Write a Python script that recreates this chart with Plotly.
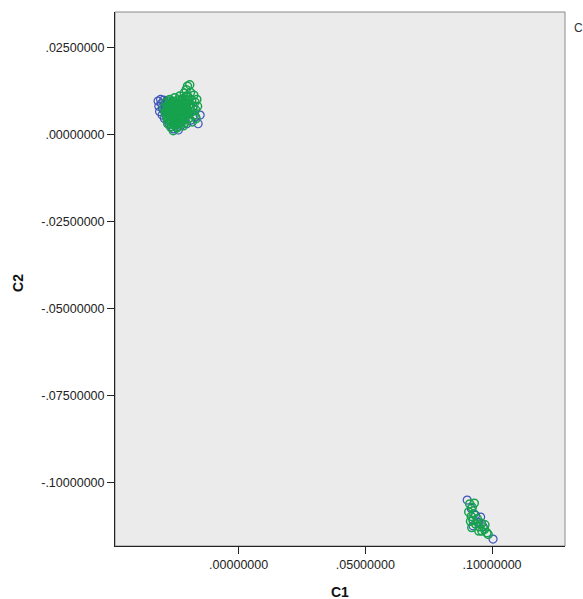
import plotly.graph_objects as go

# ---- data ----
blue_x = [-0.0318, -0.0315, -0.0312, -0.0308, -0.0305, -0.0302, -0.0300, -0.0296, -0.0293, -0.0290,
          -0.0288, -0.0285, -0.0282, -0.0280, -0.0275, -0.0272, -0.0270, -0.0265, -0.0262, -0.0258,
          -0.0255, -0.0250, -0.0246, -0.0242, -0.0238, -0.0232, -0.0228, -0.0222, -0.0218, -0.0212,
          -0.0205, -0.0198, -0.0190, -0.0180, -0.0170, -0.0160, -0.0152,
          0.0902, 0.0935, 0.0945, 0.0925, 0.0955, 0.0965, 0.1004, 0.0918]
blue_y = [0.0095, 0.0080, 0.0065, 0.0100, 0.0088, 0.0055, 0.0072, 0.0098, 0.0045, 0.0083,
          0.0062, 0.0095, 0.0040, 0.0075, 0.0030, 0.0088, 0.0055, 0.0022, 0.0068, 0.0015,
          0.0045, 0.0080, 0.0030, 0.0060, 0.0012, 0.0050, 0.0025, 0.0070, 0.0040, 0.0090,
          0.0030, 0.0060, 0.0040, 0.0075, 0.0050, 0.0030, 0.0055,
          -0.1051, -0.1095, -0.1115, -0.1125, -0.1100, -0.1128, -0.1163, -0.1075]

green_x = [-0.0295, -0.0290, -0.0288, -0.0285, -0.0282, -0.0278, -0.0275, -0.0272, -0.0270, -0.0267,
           -0.0264, -0.0262, -0.0260, -0.0257, -0.0255, -0.0252, -0.0250, -0.0248, -0.0245, -0.0243,
           -0.0240, -0.0238, -0.0235, -0.0232, -0.0230, -0.0228, -0.0225, -0.0222, -0.0220, -0.0218,
           -0.0215, -0.0212, -0.0210, -0.0207, -0.0205, -0.0202, -0.0200, -0.0198, -0.0196, -0.0193,
           -0.0190, -0.0188, -0.0185, -0.0183, -0.0180, -0.0177, -0.0175, -0.0172, -0.0170, -0.0168,
           -0.0165, -0.0162, -0.0268, -0.0280, -0.0258, -0.0276, -0.0262, -0.0248, -0.0236, -0.0226,
           -0.0214, -0.0204, -0.0240, -0.0252, -0.0230, -0.0218, -0.0286, -0.0270,
           -0.0278, -0.0274, -0.0270, -0.0266, -0.0262, -0.0258, -0.0254, -0.0250, -0.0246, -0.0242,
           -0.0238, -0.0234, -0.0230, -0.0226, -0.0222, -0.0218, -0.0214, -0.0210,
           -0.0276, -0.0271, -0.0266, -0.0261, -0.0256, -0.0251, -0.0246, -0.0241, -0.0236, -0.0231,
           -0.0226, -0.0221, -0.0216, -0.0211, -0.0206, -0.0201,
           -0.0280, -0.0273, -0.0265, -0.0258, -0.0250, -0.0243, -0.0236, -0.0228, -0.0221, -0.0213,
           -0.0206, -0.0199, -0.0192,
           0.0912, 0.0922, 0.0930, 0.0908, 0.0918, 0.0928, 0.0915, 0.0925, 0.0935, 0.0920,
           0.0942, 0.0950, 0.0960, 0.0970, 0.0980, 0.0972, 0.0958, 0.0985, 0.0948]
green_y = [0.0075, 0.0060, 0.0090, 0.0050, 0.0070, 0.0085, 0.0045, 0.0100, 0.0062, 0.0078,
           0.0035, 0.0092, 0.0055, 0.0070, 0.0025, 0.0105, 0.0040, 0.0085, 0.0060, 0.0018,
           0.0098, 0.0072, 0.0048, 0.0110, 0.0030, 0.0088, 0.0062, 0.0040, 0.0102, 0.0075,
           0.0118, 0.0052, 0.0090, 0.0128, 0.0068, 0.0138, 0.0108, 0.0045, 0.0085, 0.0142,
           0.0120, 0.0065, 0.0098, 0.0035, 0.0080, 0.0112, 0.0055, 0.0092, 0.0070, 0.0045,
           0.0100, 0.0080, 0.0020, 0.0030, 0.0010, 0.0065, 0.0082, 0.0052, 0.0058, 0.0080,
           0.0062, 0.0088, 0.0030, 0.0066, 0.0094, 0.0024, 0.0068, 0.0042,
           0.0058, 0.0072, 0.0040, 0.0086, 0.0050, 0.0064, 0.0094, 0.0036, 0.0076, 0.0050,
           0.0088, 0.0062, 0.0042, 0.0098, 0.0054, 0.0084, 0.0070, 0.0060,
           0.0082, 0.0052, 0.0068, 0.0028, 0.0090, 0.0046, 0.0072, 0.0022, 0.0084, 0.0066,
           0.0034, 0.0078, 0.0046, 0.0100, 0.0078, 0.0058,
           0.0040, 0.0095, 0.0050, 0.0080, 0.0066, 0.0040, 0.0060, 0.0052, 0.0090, 0.0032,
           0.0110, 0.0096, 0.0076,
           -0.1062, -0.1072, -0.1060, -0.1085, -0.1098, -0.1090, -0.1112, -0.1110, -0.1120, -0.1130,
           -0.1105, -0.1128, -0.1140, -0.1135, -0.1145, -0.1122, -0.1118, -0.1150, -0.1140]

x_tickvals = [0.0, 0.05, 0.10]
x_ticktext = [".00000000", ".05000000", ".10000000"]
y_tickvals = [0.025, 0.0, -0.025, -0.05, -0.075, -0.10]
y_ticktext = [".02500000", ".00000000", "-.02500000", "-.05000000", "-.07500000", "-.10000000"]

BLUE = "#3D55B8"
GREEN = "#17A24E"
FONT = "Liberation Sans, Arial, sans-serif"

fig = go.Figure()
fig.add_trace(go.Scatter(x=blue_x, y=blue_y, mode="markers", showlegend=False,
                         marker=dict(symbol="circle-open", size=8, color=BLUE, line=dict(width=1.2, color=BLUE))))
fig.add_trace(go.Scatter(x=green_x, y=green_y, mode="markers", showlegend=False,
                         marker=dict(symbol="circle-open", size=8, color=GREEN, line=dict(width=1.5, color=GREEN))))

axis_common = dict(showgrid=False, zeroline=False, showline=True, linecolor="#222222", linewidth=1,
                   ticks="outside", ticklen=7, tickcolor="#222222", tickwidth=1,
                   tickfont=dict(family=FONT, size=12.5, color="#222222"))

fig.update_layout(
    width=583, height=599,
    margin=dict(l=115, r=18, t=12, b=53),
    paper_bgcolor="white", plot_bgcolor="#EBEBEB",
    xaxis=dict(range=[-0.0488, 0.1288], tickvals=x_tickvals, ticktext=x_ticktext, **axis_common),
    yaxis=dict(range=[-0.1183, 0.0351], tickvals=y_tickvals, ticktext=y_ticktext, **axis_common),
    font=dict(family=FONT),
    shapes=[dict(type="rect", xref="paper", yref="paper", x0=0, y0=0, x1=1, y1=1,
                 line=dict(color="#8A8A8A", width=1), layer="below")],
    annotations=[
        dict(text="<b>C1</b>", xref="paper", yref="paper", x=0.5, y=-0.086, showarrow=False,
             xanchor="center", yanchor="middle", font=dict(size=14, color="#111111")),
        dict(text="<b>C2</b>", xref="paper", yref="paper", x=-0.2156, y=0.4925, showarrow=False,
             textangle=-90, xanchor="center", yanchor="middle", font=dict(size=14, color="#111111")),
        dict(text="C", xref="paper", yref="paper", x=1.016, y=0.97, showarrow=False,
             xanchor="left", yanchor="middle", font=dict(size=12, color="#333333")),
    ],
)

fig.write_html("out.html", config={"displayModeBar": False},
               post_script="document.body.style.margin='0';document.body.style.overflow='hidden';")
